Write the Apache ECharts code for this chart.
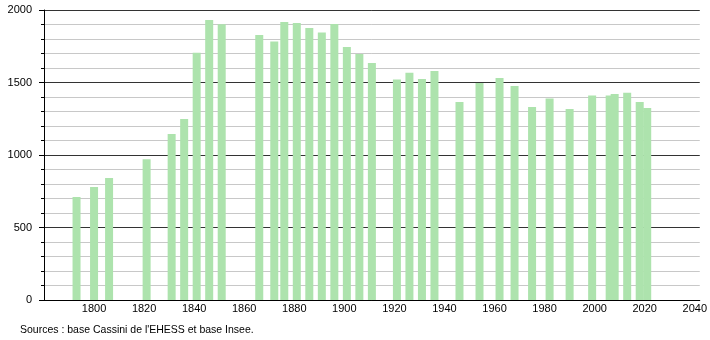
<!DOCTYPE html>
<html>
<head>
<meta charset="utf-8">
<script src="https://cdn.jsdelivr.net/npm/echarts@6/dist/echarts.min.js"></script>
<style>
html,body{margin:0;padding:0;background:#fff;}
#chart{width:710px;height:340px;}
</style>
</head>
<body>
<div id="chart"></div>
<script>
const years = [1793,1800,1806,1821,1831,1836,1841,1846,1851,1866,1872,1876,1881,1886,1891,1896,1901,1906,1911,1921,1926,1931,1936,1946,1954,1962,1968,1975,1982,1990,1999,2006,2008,2013,2018,2021];
const population = [710,779,841,970,1145,1248,1706,1931,1901,1828,1782,1917,1910,1876,1844,1903,1745,1697,1634,1520,1568,1524,1579,1366,1497,1531,1476,1331,1389,1317,1411,1411,1420,1429,1366,1324];
const yTicks = [0,500,1000,1500,2000];
const xTicks = [1800,1820,1840,1860,1880,1900,1920,1940,1960,1980,2000,2020,2040];
const sourceText = "Sources : base Cassini de l'EHESS et base Insee.";

const chart = echarts.init(document.getElementById('chart'), null, {renderer:'canvas'});
const font = 'Liberation Sans, Arial, sans-serif';
chart.setOption({
  animation:false,
  backgroundColor:'#ffffff',
  grid:{left:44,right:10,top:10,bottom:40,containLabel:false},
  xAxis:{
    type:'value', min:1780, max:2042, interval:20,
    axisLine:{show:true,onZero:false,lineStyle:{color:'#000',width:1}},
    axisTick:{show:false},
    splitLine:{show:false},
    axisLabel:{show:true,showMinLabel:false,showMaxLabel:false,color:'#000',fontFamily:font,fontSize:11,margin:3,
      formatter:v=> xTicks.includes(v)? String(v):''}
  },
  yAxis:{
    type:'value', min:yTicks[0], max:yTicks[yTicks.length-1], interval:500,
    axisLine:{show:true,lineStyle:{color:'#000',width:1}},
    axisTick:{show:true,length:5,lineStyle:{color:'#000'}},
    minorTick:{show:true,splitNumber:5,length:3,lineStyle:{color:'#000'}},
    splitLine:{show:true,lineStyle:{color:'#333',width:1}},
    minorSplitLine:{show:true,lineStyle:{color:'#c8c8c8',width:1}},
    axisLabel:{color:'#000',fontFamily:font,fontSize:11,margin:12,
      formatter:v=> yTicks.includes(v)? String(v):''}
  },
  series:[{
    type:'bar',
    data: years.map((y,i)=>[y,population[i]]),
    barWidth:8,
    itemStyle:{color:'#ade3ad'},
    z:3
  }],
  graphic:[{
    type:'text', left:20, top:325,
    style:{text:sourceText, fill:'#000', font:'10.5px '+font}
  }]
});
</script>
</body>
</html>
